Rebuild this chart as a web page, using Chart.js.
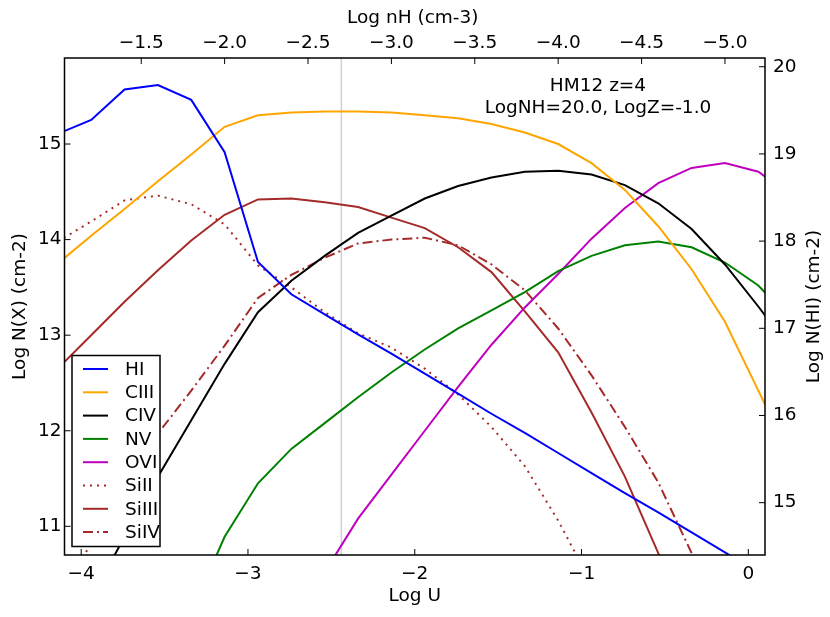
<!DOCTYPE html>
<html>
<head>
<meta charset="utf-8">
<script src="https://cdn.jsdelivr.net/npm/chart.js@4.4.1/dist/chart.umd.min.js"></script>
<style>
  html, body { margin: 0; padding: 0; background: #fff; }
  #wrap { width: 830px; height: 617px; }
</style>
</head>
<body>
<div id="wrap"><canvas id="canvas_ions" width="830" height="617"></canvas></div>
<script>
// model grid, Log U
var log_u = [-4.14, -3.94, -3.74, -3.54, -3.34, -3.14, -2.94, -2.74, -2.54, -2.34, -2.14, -1.94,
             -1.74, -1.54, -1.34, -1.14, -0.94, -0.74, -0.54, -0.34, -0.14, 0.06, 0.26];

// column densities, Log N (cm-2)
var n_hi   = [19.23, 19.39, 19.74, 19.79, 19.62, 19.02, 17.76, 17.39, 17.16, 16.93, 16.71, 16.48,
              16.25, 16.02, 15.80, 15.57, 15.34, 15.11, 14.89, 14.66, 14.43, 14.20, 13.98];
var n_ciii = [13.75, 14.04, 14.32, 14.61, 14.89, 15.18, 15.30, 15.33, 15.34, 15.34, 15.33, 15.30,
              15.27, 15.21, 15.12, 15.00, 14.80, 14.52, 14.14, 13.69, 13.14, 12.42, 11.70];
var n_civ  = [9.60, 10.25, 10.89, 11.52, 12.11, 12.70, 13.24, 13.57, 13.83, 14.07, 14.25, 14.43,
              14.56, 14.65, 14.71, 14.72, 14.68, 14.57, 14.38, 14.11, 13.74, 13.30, 12.84];
var n_nv   = [null, null, null, 9.30, 10.10, 10.89, 11.45, 11.81, 12.08, 12.35, 12.61, 12.85,
              13.07, 13.26, 13.45, 13.67, 13.83, 13.94, 13.98, 13.92, 13.76, 13.52, 13.15];
var n_ovi  = [null, null, null, null, null, null, null, 9.90, 10.52, 11.08, 11.54, 12.00,
              12.46, 12.90, 13.29, 13.64, 14.01, 14.33, 14.59, 14.75, 14.80, 14.71, 14.46];
var n_siii = [13.98, 14.19, 14.41, 14.46, 14.37, 14.16, 13.73, 13.50, 13.24, 13.02, 12.87, 12.65,
              12.38, 12.04, 11.63, 11.06, 10.40, 9.60, null, null, null, null, null];
var n_siiii = [12.65, 13.00, 13.35, 13.68, 13.99, 14.26, 14.42, 14.43, 14.39, 14.34, 14.23, 14.12,
               13.92, 13.66, 13.25, 12.82, 12.19, 11.52, 10.72, 9.80, null, null, null];
var n_siiv = [10.25, 10.82, 11.40, 11.97, 12.42, 12.89, 13.39, 13.63, 13.81, 13.96, 14.00, 14.02,
              13.94, 13.74, 13.47, 13.07, 12.58, 12.04, 11.46, 10.72, 9.90, null, null];

// marked model, Log U
var log_u_mark = -2.44;

// ticks
var ticks_u   = [-4, -3, -2, -1, 0];
var ticks_nh  = [-1.5, -2.0, -2.5, -3.0, -3.5, -4.0, -4.5, -5.0];
var ticks_nx  = [11, 12, 13, 14, 15];
var ticks_nhi = [15, 16, 17, 18, 19, 20];

var note_lines = ['HM12 z=4', 'LogNH=20.0, LogZ=-1.0'];

var FONT = '"DejaVu Sans", sans-serif';
var FSIZE = 18.5;

function pts(vals) {
  return log_u.map(function (u, i) { return { x: u, y: vals[i] }; });
}

function minus(s) { return String(s).replace('-', '\u2212'); }

function line(label, vals, color, axis, dash) {
  return {
    label: label,
    data: pts(vals),
    borderColor: color,
    backgroundColor: color,
    borderWidth: 2,
    borderDash: dash || [],
    pointRadius: 0,
    tension: 0,
    fill: false,
    clip: 0,
    yAxisID: axis
  };
}

var brown = '#a52a2a';
var datasets = [
  line('HI', n_hi, '#0000ff', 'y1'),
  line('CIII', n_ciii, '#ffa500', 'y'),
  line('CIV', n_civ, '#000000', 'y'),
  line('NV', n_nv, '#008000', 'y'),
  line('OVI', n_ovi, '#bf00bf', 'y'),
  line('SiII', n_siii, brown, 'y', [2, 5]),
  line('SiIII', n_siiii, brown, 'y'),
  line('SiIV', n_siiv, brown, 'y', [10, 4, 2, 4]),
  {
    label: '_mark',
    data: [{ x: log_u_mark, y: 10.7 }, { x: log_u_mark, y: 15.9 }],
    borderColor: '#d0d0d0',
    borderWidth: 1.5,
    pointRadius: 0,
    clip: 0,
    yAxisID: 'y',
    order: 10
  }
];

function fixed(size, isWidth) {
  return function (scale) {
    if (isWidth) scale.width = size; else scale.height = size;
  };
}

function setTicks(list) {
  return function (scale) {
    scale.ticks = list.map(function (v) { return { value: v }; });
  };
}

var tickFont = { family: FONT, size: FSIZE };

// inner ticks, frame, axis titles, note and legend
var decorations = {
  id: 'decorations',
  afterDraw: function (chart) {
    var ctx = chart.ctx, a = chart.chartArea, s = chart.scales;
    var len = 6;
    ctx.save();
    ctx.strokeStyle = '#000';
    ctx.lineWidth = 1;
    function seg(x1, y1, x2, y2) {
      ctx.beginPath(); ctx.moveTo(x1, y1); ctx.lineTo(x2, y2); ctx.stroke();
    }
    ticks_u.forEach(function (v) { var p = s.x.getPixelForValue(v); seg(p, a.bottom, p, a.bottom - len); });
    ticks_nh.forEach(function (v) { var p = s.x2.getPixelForValue(v); seg(p, a.top, p, a.top + len); });
    ticks_nx.forEach(function (v) { var p = s.y.getPixelForValue(v); seg(a.left, p, a.left + len, p); });
    ticks_nhi.forEach(function (v) { var p = s.y1.getPixelForValue(v); seg(a.right, p, a.right - len, p); });

    ctx.lineWidth = 1.5;
    ctx.strokeRect(a.left, a.top, a.right - a.left, a.bottom - a.top);

    ctx.fillStyle = '#000';
    ctx.font = FSIZE + 'px ' + FONT;
    ctx.textAlign = 'center';
    ctx.textBaseline = 'middle';
    var cx = (a.left + a.right) / 2, cy = (a.top + a.bottom) / 2;
    ctx.fillText('Log U', cx, 596);
    ctx.fillText('Log nH (cm-3)', cx - 2, 18);
    ctx.save(); ctx.translate(20, cy); ctx.rotate(-Math.PI / 2);
    ctx.fillText('Log N(X) (cm-2)', 0, 0); ctx.restore();
    ctx.save(); ctx.translate(814, cy); ctx.rotate(-Math.PI / 2);
    ctx.fillText('Log N(HI) (cm-2)', 0, 0); ctx.restore();

    ctx.fillText(note_lines[0], 598, 86);
    ctx.fillText(note_lines[1], 598, 108);

    // legend box
    var bx = 72, by = 355.5, bw = 88, bh = 191;
    ctx.fillStyle = '#fff';
    ctx.fillRect(bx, by, bw, bh);
    ctx.lineWidth = 1.5;
    ctx.strokeStyle = '#000';
    ctx.strokeRect(bx, by, bw, bh);
    var items = chart.data.datasets.filter(function (d) { return d.label.charAt(0) !== '_'; });
    items.forEach(function (d, i) {
      var y = 369 + i * 23.3;
      ctx.strokeStyle = d.borderColor;
      ctx.lineWidth = 2;
      ctx.setLineDash(d.borderDash || []);
      seg(83, y, 108, y);
      ctx.setLineDash([]);
      ctx.fillStyle = '#000';
      ctx.textAlign = 'left';
      ctx.fillText(d.label, 125, y + 1);
    });
    ctx.restore();
  }
};

var ctx = document.getElementById('canvas_ions');
var ionChart = new Chart(ctx, {
  type: 'line',
  data: { datasets: datasets },
  plugins: [decorations],
  options: {
    responsive: false,
    animation: false,
    devicePixelRatio: 1,
    layout: { padding: 0 },
    plugins: { legend: { display: false }, tooltip: { enabled: false } },
    scales: {
      x: {
        type: 'linear', position: 'bottom', min: -4.1, max: 0.1,
        grid: { display: false, drawTicks: false }, border: { display: false },
        afterBuildTicks: setTicks(ticks_u), afterFit: fixed(62, false),
        ticks: { font: tickFont, color: '#000', padding: 8, maxRotation: 0,
                 callback: function (v) { return minus(v); } }
      },
      x2: {
        type: 'linear', position: 'top', min: -5.24, max: -1.04, reverse: true,
        grid: { display: false, drawTicks: false }, border: { display: false },
        afterBuildTicks: setTicks(ticks_nh), afterFit: fixed(58, false),
        ticks: { font: tickFont, color: '#000', padding: 4, maxRotation: 0,
                 callback: function (v) { return minus(v.toFixed(1)); } }
      },
      y: {
        type: 'linear', position: 'left', min: 10.7, max: 15.9,
        grid: { display: false, drawTicks: false }, border: { display: false },
        afterBuildTicks: setTicks(ticks_nx), afterFit: fixed(64.5, true),
        ticks: { font: tickFont, color: '#000', padding: 3 }
      },
      y1: {
        type: 'linear', position: 'right', min: 14.4, max: 20.1,
        grid: { display: false, drawTicks: false }, border: { display: false },
        afterBuildTicks: setTicks(ticks_nhi), afterFit: fixed(65, true),
        ticks: { font: tickFont, color: '#000', padding: 8 }
      }
    }
  }
});
</script>
</body>
</html>
